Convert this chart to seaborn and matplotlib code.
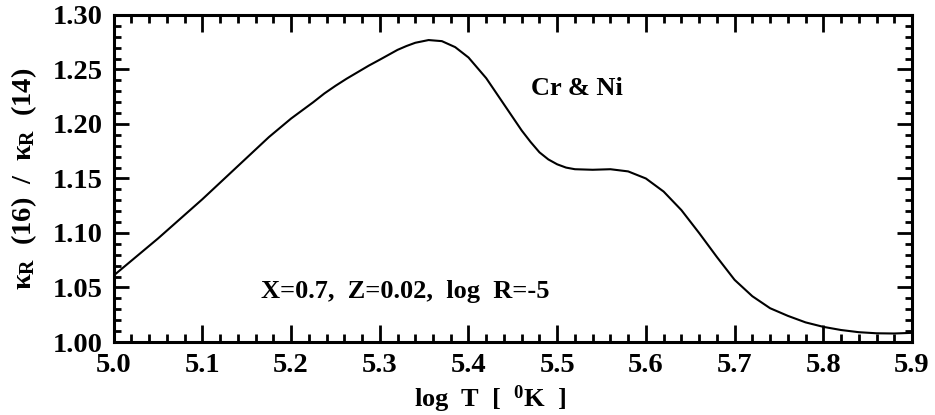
import matplotlib
matplotlib.use("Agg")
import matplotlib.pyplot as plt
from matplotlib.ticker import MultipleLocator, FormatStrFormatter
import seaborn as sns
import pandas as pd

log_T = [5.00, 5.025, 5.05, 5.075, 5.10, 5.125, 5.15, 5.175, 5.20, 5.2125,
         5.225, 5.2375, 5.25, 5.2625, 5.275, 5.2875, 5.30, 5.31, 5.32, 5.33,
         5.34, 5.355, 5.37, 5.385, 5.40, 5.42, 5.44, 5.46, 5.47, 5.48,
         5.49, 5.50, 5.51, 5.52, 5.54, 5.56, 5.58, 5.60, 5.62, 5.64,
         5.66, 5.68, 5.70, 5.72, 5.74, 5.76, 5.78, 5.80, 5.82, 5.84,
         5.86, 5.88, 5.90]
kappa_ratio = [1.061, 1.078, 1.095, 1.113, 1.131, 1.150, 1.169, 1.188, 1.205, 1.2125,
               1.220, 1.228, 1.235, 1.2415, 1.2475, 1.2535, 1.259, 1.2635, 1.268, 1.2715,
               1.2745, 1.277, 1.276, 1.2705, 1.261, 1.242, 1.218, 1.194, 1.1835, 1.174,
               1.1675, 1.163, 1.160, 1.1585, 1.158, 1.1585, 1.1565, 1.150, 1.138, 1.121,
               1.100, 1.078, 1.057, 1.042, 1.031, 1.024, 1.018, 1.0139, 1.011, 1.009,
               1.008, 1.0078, 1.0084]

x_ticks = [5.0, 5.1, 5.2, 5.3, 5.4, 5.5, 5.6, 5.7, 5.8, 5.9]
y_ticks = [1.00, 1.05, 1.10, 1.15, 1.20, 1.25, 1.30]

df = pd.DataFrame({"logT": log_T, "ratio": kappa_ratio})

sns.set_theme(style="ticks")
plt.rcParams["font.family"] = ["Liberation Serif", "DejaVu Serif"]
plt.rcParams["font.weight"] = "bold"
plt.rcParams["mathtext.fontset"] = "custom"
plt.rcParams["mathtext.rm"] = "Liberation Serif:bold"
plt.rcParams["mathtext.it"] = "Liberation Serif:bold"
plt.rcParams["mathtext.bf"] = "Liberation Serif:bold"

fig = plt.figure(figsize=(9.35, 4.15), dpi=100)
ax = fig.add_axes([0.1216, 0.1759, 0.8538, 0.7880])

sns.lineplot(data=df, x="logT", y="ratio", ax=ax, color="black", linewidth=1.5,
             estimator=None, sort=False)

ax.set_xlim(5.0, 5.9)
ax.set_ylim(1.0, 1.30)
ax.set_xticks(x_ticks)
ax.set_yticks(y_ticks)
ax.xaxis.set_major_formatter(FormatStrFormatter("%.1f"))
ax.yaxis.set_major_formatter(FormatStrFormatter("%.2f"))
ax.xaxis.set_minor_locator(MultipleLocator(0.02))
ax.yaxis.set_minor_locator(MultipleLocator(0.01))

ax.tick_params(which="both", direction="in", top=True, right=True,
               colors="black", width=2.0)
ax.tick_params(axis="x", which="major", length=12, pad=8)
ax.tick_params(axis="x", which="minor", length=6)
ax.tick_params(axis="y", which="major", length=10.5, pad=8)
ax.tick_params(axis="y", which="minor", length=5)
for lab in ax.get_xticklabels() + ax.get_yticklabels():
    lab.set_fontsize(20.5)
    lab.set_fontweight("bold")
    lab.set_color("black")

for sp in ax.spines.values():
    sp.set_linewidth(2.2)
    sp.set_color("black")

ax.set_xlabel(r"log  T  [  $^{0}$K  ]", fontsize=19, fontweight="bold", color="black")
ax.xaxis.set_label_coords(0.472, -0.126)
ax.set_ylabel(r"$\kappa_{R}$  (16)  /  $\kappa_{R}$  (14)", fontsize=20.5,
              fontweight="bold", color="black")
ax.yaxis.set_label_coords(-0.094, 0.5)

ax.text(5.1665, 1.040, "X=0.7,  Z=0.02,  log  R=-5", fontsize=19,
        fontweight="bold", color="black", ha="left", va="baseline")
ax.text(5.470, 1.227, "Cr & Ni", fontsize=19, fontweight="bold",
        color="black", ha="left", va="baseline")

ax.set_facecolor("white")
fig.patch.set_facecolor("white")
fig.savefig("out.png", dpi=100)
